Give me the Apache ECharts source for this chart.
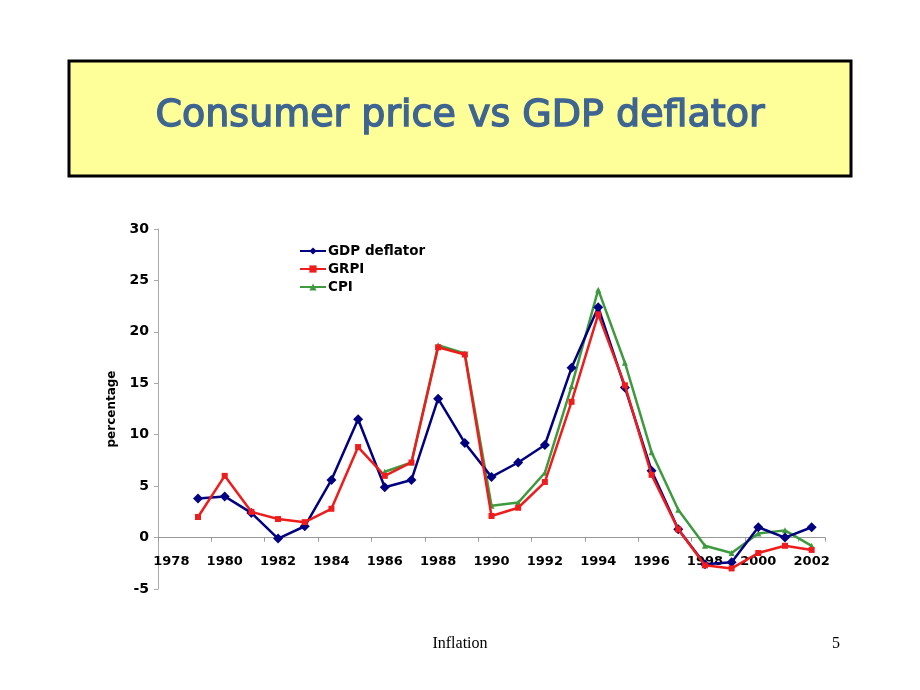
<!DOCTYPE html>
<html><head><meta charset="utf-8">
<script src="https://cdn.jsdelivr.net/npm/echarts@6/dist/echarts.min.js"></script>
<style>html,body{margin:0;padding:0;background:#fff}#c{width:920px;height:690px}</style>
</head><body><div id="c"></div>
<script>
const years = ['1978','1979','1980','1981','1982','1983','1984','1985','1986','1987','1988','1989','1990','1991','1992','1993','1994','1995','1996','1997','1998','1999','2000','2001','2002'];
const gdpDeflator = [null,3.8,4.0,2.4,-0.1,1.1,5.6,11.5,4.9,5.6,13.5,9.2,5.9,7.3,9.0,16.5,22.4,14.6,6.5,0.8,-2.6,-2.4,1.0,0.0,1.0];
const grpi = [null,2.0,6.0,2.5,1.8,1.5,2.8,8.8,6.0,7.3,18.5,17.8,2.1,2.9,5.4,13.2,21.7,14.8,6.1,0.8,-2.7,-3.0,-1.5,-0.8,-1.2];
const cpi = [null,null,null,null,null,null,null,null,6.4,7.3,18.7,17.9,3.1,3.4,6.3,14.7,24.1,17.0,8.3,2.7,-0.8,-1.5,0.4,0.7,-0.8];
const seriesNames = ['GDP deflator','GRPI','CPI'];

const chart = echarts.init(document.getElementById('c'), null, {renderer:'canvas'});
const bold = {fontFamily:'"DejaVu Sans", sans-serif', fontWeight:'bold', fontSize:13, color:'#000'};
chart.setOption({
  backgroundColor:'#fff',
  animation:false,
  graphic:[
    {type:'rect', shape:{x:69, y:61, width:782, height:115}, style:{fill:'#ffff99', stroke:'#000', lineWidth:3}},
    {type:'text', left:'center', top:96, style:{text:'Consumer price vs GDP deflator', font:'normal 38px "DejaVu Sans", sans-serif', fill:'#3e6592', stroke:'#3e6592', lineWidth:1.4, shadowColor:'rgba(0,0,0,0.55)', shadowBlur:2, shadowOffsetX:2, shadowOffsetY:2}},
    {type:'text', left:'center', top:636, style:{text:'Inflation', font:'16px "Liberation Serif", "Times New Roman", serif', fill:'#000'}},
    {type:'text', left:832, top:636, style:{text:'5', font:'16px "Liberation Serif", "Times New Roman", serif', fill:'#000'}}
  ],
  grid:{left:158, right:95, top:229, bottom:101, containLabel:false},
  legend:{
    orient:'vertical', left:294, top:239, itemGap:4, itemWidth:26, itemHeight:9,
    textStyle:Object.assign({}, bold, {fontSize:13.5, padding:[0,0,0,-3]}),
    data:seriesNames
  },
  xAxis:{
    type:'category', data:years, boundaryGap:true,
    axisLine:{onZero:false, lineStyle:{color:'#999', width:1}},
    offset:-51.4,
    axisTick:{show:true, interval:1, length:4, lineStyle:{color:'#999'}},
    axisLabel:Object.assign({}, bold, {interval:1, margin:18}),
    splitLine:{show:false}
  },
  yAxis:{
    type:'value', min:-5, max:30, interval:5,
    name:'percentage', nameLocation:'middle', nameGap:40, nameRotate:90,
    nameTextStyle:Object.assign({}, bold, {fontSize:12}),
    axisLine:{show:true, lineStyle:{color:'#aaa', width:1}},
    axisTick:{show:true, length:4, lineStyle:{color:'#aaa'}},
    axisLabel:Object.assign({}, bold, {fontSize:14, margin:9}),
    splitLine:{show:false}
  },
  series:[
    {name:seriesNames[0], type:'line', data:gdpDeflator, symbol:'diamond', symbolSize:10,
     lineStyle:{color:'#000080', width:2.5}, itemStyle:{color:'#000080'}, z:3},
    {name:seriesNames[1], type:'line', data:grpi, symbol:'rect', symbolSize:6,
     lineStyle:{color:'#ee1c1c', width:2.5}, itemStyle:{color:'#ee1c1c'}, z:4},
    {name:seriesNames[2], type:'line', data:cpi, symbol:'triangle', symbolSize:6,
     lineStyle:{color:'#3f9a3f', width:2.5}, itemStyle:{color:'#3f9a3f'}, z:2}
  ]
});
</script></body></html>
